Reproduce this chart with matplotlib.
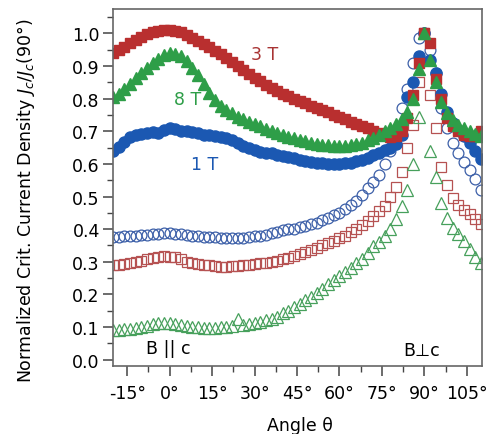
import numpy as np
import matplotlib.pyplot as plt
from matplotlib.ticker import MultipleLocator, FuncFormatter

plt.rcParams['font.family'] = ['DejaVu Sans']
plt.rcParams['mathtext.fontset'] = 'dejavusans'

# rotation angle of the sample, 2 deg steps
angle = np.arange(-20, 111, 2)

# filled symbols: Jc(theta)/Jc(90) for 1 T, 3 T, 8 T
jc_1T = [0.640, 0.652, 0.668, 0.682, 0.690, 0.692, 0.695, 0.698, 0.696, 0.705,
         0.710, 0.706, 0.702, 0.700, 0.698, 0.695, 0.690, 0.688, 0.685, 0.682,
         0.678, 0.672, 0.665, 0.655, 0.648, 0.642, 0.638, 0.635, 0.632, 0.628,
         0.625, 0.620, 0.617, 0.613, 0.610, 0.607, 0.604, 0.602, 0.600, 0.599,
         0.600, 0.602, 0.604, 0.608, 0.613, 0.619, 0.626, 0.634, 0.642, 0.648,
         0.660, 0.690, 0.805, 0.850, 0.930, 1.000, 0.920, 0.880, 0.815, 0.760,
         0.725, 0.705, 0.685, 0.665, 0.640, 0.615]
jc_3T = [0.940, 0.950, 0.960, 0.970, 0.980, 0.990, 0.997, 1.003, 1.008, 1.010,
         1.010, 1.008, 1.003, 0.995, 0.987, 0.978, 0.968, 0.958, 0.947, 0.936,
         0.924, 0.912, 0.900, 0.888, 0.876, 0.864, 0.853, 0.842, 0.832, 0.823,
         0.815, 0.807, 0.800, 0.793, 0.786, 0.779, 0.772, 0.765, 0.758, 0.751,
         0.744, 0.737, 0.730, 0.723, 0.716, 0.709, 0.702, 0.695, 0.688, 0.682,
         0.685, 0.700, 0.740, 0.810, 0.910, 1.000, 0.970, 0.860, 0.800, 0.740,
         0.715, 0.700, 0.690, 0.685, 0.685, 0.700]
jc_8T = [0.805, 0.815, 0.830, 0.845, 0.862, 0.878, 0.893, 0.908, 0.922, 0.933,
         0.940, 0.938, 0.930, 0.915, 0.895, 0.872, 0.845, 0.818, 0.795, 0.778,
         0.765, 0.755, 0.745, 0.737, 0.730, 0.722, 0.715, 0.708, 0.700, 0.694,
         0.688, 0.683, 0.678, 0.673, 0.669, 0.665, 0.662, 0.659, 0.657, 0.656,
         0.656, 0.656, 0.657, 0.660, 0.665, 0.672, 0.680, 0.690, 0.700, 0.710,
         0.722, 0.738, 0.760, 0.800, 0.890, 1.000, 0.920, 0.850, 0.790, 0.755,
         0.735, 0.720, 0.710, 0.700, 0.692, 0.685]

# open symbols: second sample set
jc_1T_b = [0.377, 0.377, 0.378, 0.379, 0.380, 0.381, 0.383, 0.385, 0.386, 0.387,
           0.387, 0.386, 0.384, 0.382, 0.380, 0.378, 0.377, 0.376, 0.375, 0.374,
           0.374, 0.374, 0.374, 0.374, 0.376, 0.378, 0.380, 0.383, 0.387, 0.392,
           0.396, 0.399, 0.402, 0.406, 0.410, 0.415, 0.420, 0.427, 0.434, 0.442,
           0.451, 0.461, 0.473, 0.487, 0.505, 0.525, 0.545, 0.567, 0.600, 0.640,
           0.700, 0.770, 0.830, 0.910, 0.985, 1.000, 0.950, 0.880, 0.770, 0.710,
           0.665, 0.635, 0.605, 0.580, 0.555, 0.520]
jc_3T_b = [0.290, 0.291, 0.293, 0.295, 0.298, 0.303, 0.309, 0.313, 0.316, 0.317,
           0.316, 0.314, 0.308, 0.300, 0.296, 0.293, 0.291, 0.289, 0.287, 0.285,
           0.285, 0.286, 0.287, 0.289, 0.291, 0.293, 0.295, 0.297, 0.300, 0.303,
           0.308, 0.313, 0.318, 0.324, 0.330, 0.337, 0.343, 0.350, 0.357, 0.365,
           0.372, 0.380, 0.390, 0.400, 0.412, 0.425, 0.440, 0.455, 0.472, 0.498,
           0.530, 0.575, 0.650, 0.720, 0.850, 1.000, 0.810, 0.710, 0.590, 0.535,
           0.495, 0.475, 0.458, 0.446, 0.432, 0.415]
jc_8T_b = [0.090, 0.091, 0.093, 0.095, 0.098, 0.101, 0.104, 0.108, 0.111, 0.113,
           0.113, 0.110, 0.106, 0.103, 0.101, 0.099, 0.098, 0.098, 0.098, 0.099,
           0.100, 0.102, 0.126, 0.107, 0.110, 0.113, 0.116, 0.120, 0.124, 0.132,
           0.142, 0.150, 0.160, 0.170, 0.182, 0.193, 0.204, 0.218, 0.232, 0.245,
           0.255, 0.268, 0.282, 0.296, 0.310, 0.328, 0.348, 0.362, 0.378, 0.400,
           0.430, 0.470, 0.520, 0.600, 0.745, 1.000, 0.640, 0.560, 0.480, 0.435,
           0.405, 0.385, 0.365, 0.340, 0.315, 0.295]

blue = '#1b58b2'
red = '#b92f2f'
green = '#2e9e48'

fig = plt.figure(figsize=(4.98, 4.35), dpi=100)
ax = fig.add_axes([0.227, 0.156, 0.741, 0.821])

ax.plot(angle, jc_1T_b, 'o', ms=7.8, mfc='none', mec='#3c5fa8', mew=0.9, ls='none')
ax.plot(angle, jc_3T_b, 's', ms=6.8, mfc='none', mec='#b65252', mew=0.9, ls='none')
ax.plot(angle, jc_8T_b, '^', ms=8.3, mfc='none', mec='#47a05c', mew=0.9, ls='none')
ax.plot(angle, jc_1T, 'o', ms=8, color=blue, ls='none')
ax.plot(angle, jc_3T, 's', ms=7.3, color=red, ls='none')
ax.plot(angle, jc_8T, '^', ms=8.5, color=green, ls='none')

ax.text(33.7, 0.936, '3 T', color='#a83434', fontsize=12.5, ha='center', va='center')
ax.text(6.5, 0.80, '8 T', color=green, fontsize=12.5, ha='center', va='center')
ax.text(12.5, 0.60, '1 T', color=blue, fontsize=12.5, ha='center', va='center')
ax.text(-0.5, 0.037, 'B || c', fontsize=12.5, ha='center', va='center')
ax.text(89, 0.03, 'B\u22a5c', fontsize=12.5, ha='center', va='center')

ax.set_xlim(-20, 110.4)
ax.set_ylim(-0.02, 1.075)
ax.xaxis.set_major_locator(MultipleLocator(15))
ax.xaxis.set_minor_locator(MultipleLocator(7.5))
ax.yaxis.set_major_locator(MultipleLocator(0.1))
ax.yaxis.set_minor_locator(MultipleLocator(0.05))
ax.xaxis.set_major_formatter(FuncFormatter(lambda v, p: '%d\u00b0' % v))
ax.yaxis.set_major_formatter(FuncFormatter(lambda v, p: '%.1f' % v))

for side in ['left', 'bottom', 'right', 'top']:
    ax.spines[side].set_color('#666666')
    ax.spines[side].set_linewidth(1.2)
ax.tick_params(which='both', direction='out', color='#444444', labelsize=12.5,
               top=False, right=False)
ax.tick_params(which='major', length=7, width=1.1)
ax.tick_params(which='minor', length=4, width=1.0)
ax.tick_params(axis='x', which='major', pad=6)
ax.tick_params(axis='y', which='major', pad=2.5)

ax.set_xlabel('Angle \u03b8', fontsize=12.5)
ax.set_ylabel('Normalized Crit. Current Density $J_c/J_c$(90\u00b0)', fontsize=12.5)
ax.xaxis.set_label_coords(0.507, -0.14)
ax.yaxis.set_label_coords(-0.205, 0.465)

fig.savefig('out.png', dpi=100)
